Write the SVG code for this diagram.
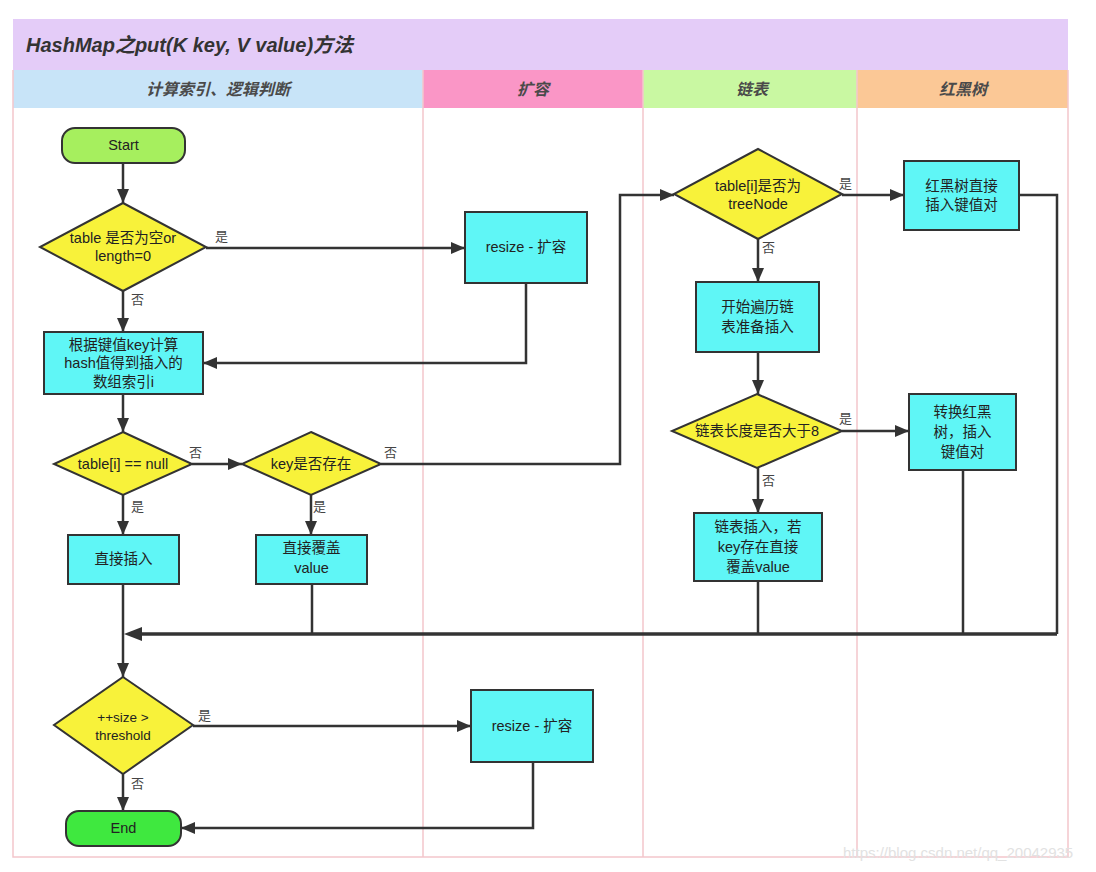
<svg xmlns="http://www.w3.org/2000/svg" width="1096" height="872" viewBox="0 0 1096 872">
<style>
text{font-family:"Liberation Sans","Noto Sans CJK SC",sans-serif;fill:#222}
.t{font-size:14.5px;text-anchor:middle}
.lbl{font-size:13px;fill:#444}
.lane{font-size:16px;font-style:italic;font-weight:bold;fill:#4a4a4a;text-anchor:middle}
.box{fill:#5ff6f6;stroke:#333;stroke-width:2}
.dia{fill:#f8f23a;stroke:#333;stroke-width:2}
.sep{stroke:#f3c6cc;stroke-width:1.5;fill:none}
.c{fill:none;stroke:#333;stroke-width:2.5;marker-end:url(#ah)}
.n{fill:none;stroke:#333;stroke-width:2.5}
</style>
<defs>
<marker id="ah" viewBox="0 0 14 12" refX="14" refY="6" markerWidth="14" markerHeight="12" markerUnits="userSpaceOnUse" orient="auto">
<path d="M0,0 L14,6 L0,12 z" fill="#333"/>
</marker>
</defs>
<rect width="1096" height="872" fill="#fff"/>
<g id="pool">
<rect x="13" y="19" width="1055" height="51" fill="#e4ccf8"/>
<text x="26" y="52" style="font-size:20px;font-weight:bold;font-style:italic;fill:#333">HashMap之put(K key, V value)方法</text>
<rect x="13" y="70" width="410" height="38" fill="#c8e4f8"/>
<rect x="423" y="70" width="220" height="38" fill="#fa96c6"/>
<rect x="643" y="70" width="214" height="38" fill="#c9f8a2"/>
<rect x="857" y="70" width="211" height="38" fill="#fbc896"/>
<text class="lane" x="218" y="95">计算索引、逻辑判断</text>
<text class="lane" x="533" y="95">扩容</text>
<text class="lane" x="752" y="95">链表</text>
<text class="lane" x="963" y="95">红黑树</text>
<path class="sep" d="M13,70 V857 H1068 V70 M423,70 V857 M643,70 V857 M857,70 V857"/>
</g>
<g id="connectors">
<path class="c" d="M123,163 V203"/>
<path class="c" d="M206,248 H465"/>
<path class="c" d="M123,291 V332"/>
<path class="c" d="M526,283 V363 H203"/>
<path class="c" d="M123,394 V432"/>
<path class="c" d="M192,464 H242"/>
<path class="c" d="M381,464 H620 V195 H674"/>
<path class="c" d="M123,495 V535"/>
<path class="c" d="M311,495 V535"/>
<path class="c" d="M842,195 H904"/>
<path class="c" d="M758,239 V282"/>
<path class="c" d="M758,352 V394"/>
<path class="c" d="M842,431 H909"/>
<path class="c" d="M758,468 V513"/>
<path class="n" d="M1019,195 H1057 V634"/>
<path class="n" d="M963,470 V634"/>
<path class="n" d="M758,581 V634"/>
<path class="n" d="M312,584 V634"/>
<path fill="none" stroke="#333" stroke-width="3.5" d="M1057,634 H140"/>
<path fill="#333" d="M124,634 L142,627 L142,641 z"/>
<path class="c" d="M123,584 V677"/>
<path class="c" d="M193,726 H471"/>
<path class="c" d="M123,774 V811"/>
<path class="c" d="M533,762 V828 H181"/>
<text class="lbl" x="215" y="241">是</text>
<text class="lbl" x="131" y="304">否</text>
<text class="lbl" x="189" y="457">否</text>
<text class="lbl" x="384" y="457">否</text>
<text class="lbl" x="131" y="511">是</text>
<text class="lbl" x="313" y="511">是</text>
<text class="lbl" x="839" y="188">是</text>
<text class="lbl" x="762" y="252">否</text>
<text class="lbl" x="839" y="423">是</text>
<text class="lbl" x="762" y="485">否</text>
<text class="lbl" x="198" y="720">是</text>
<text class="lbl" x="131" y="788">否</text>
</g>
<g id="start">
<rect x="62" y="128" width="123" height="35" rx="13" fill="#a6ef5e" stroke="#333" stroke-width="2"/>
<text class="t" x="123.5" y="150">Start</text>
</g>
<g id="d-table-empty">
<polygon class="dia" points="123,203 206,247 123,291 40,247"/>
<text class="t" x="123" y="243">table 是否为空or</text>
<text class="t" x="123" y="261">length=0</text>
</g>
<g id="resize1">
<rect class="box" x="465" y="212" width="122" height="71"/>
<text class="t" x="526" y="252">resize - 扩容</text>
</g>
<g id="hash">
<rect class="box" x="44" y="332" width="159" height="62"/>
<text class="t" x="123.5" y="350">根据键值key计算</text>
<text class="t" x="123.5" y="368">hash值得到插入的</text>
<text class="t" x="123.5" y="387">数组索引i</text>
</g>
<g id="d-null">
<polygon class="dia" points="123,432 192,464 123,495 54,464"/>
<text class="t" x="123" y="469">table[i] == null</text>
</g>
<g id="d-key">
<polygon class="dia" points="311,432 381,464 311,495 242,464"/>
<text class="t" x="311" y="469">key是否存在</text>
</g>
<g id="insert">
<rect class="box" x="68" y="535" width="111" height="49"/>
<text class="t" x="123.5" y="564">直接插入</text>
</g>
<g id="overwrite">
<rect class="box" x="256" y="535" width="111" height="49"/>
<text class="t" x="311.5" y="553">直接覆盖</text>
<text class="t" x="311.5" y="573">value</text>
</g>
<g id="d-treenode">
<polygon class="dia" points="758,149 842,194 758,239 674,194"/>
<text class="t" x="758" y="191">table[i]是否为</text>
<text class="t" x="758" y="209">treeNode</text>
</g>
<g id="tree-insert">
<rect class="box" x="904" y="161" width="115" height="69"/>
<text class="t" x="961.5" y="191">红黑树直接</text>
<text class="t" x="961.5" y="210">插入键值对</text>
</g>
<g id="traverse">
<rect class="box" x="696" y="282" width="123" height="70"/>
<text class="t" x="757.5" y="312">开始遍历链</text>
<text class="t" x="757.5" y="332">表准备插入</text>
</g>
<g id="d-len8">
<polygon class="dia" points="757,394 842,431 757,468 672,431"/>
<text class="t" x="757" y="436">链表长度是否大于8</text>
</g>
<g id="treeify">
<rect class="box" x="909" y="394" width="107" height="76"/>
<text class="t" x="962.5" y="417">转换红黑</text>
<text class="t" x="962.5" y="437">树，插入</text>
<text class="t" x="962.5" y="457">键值对</text>
</g>
<g id="list-insert">
<rect class="box" x="694" y="513" width="128" height="68"/>
<text class="t" x="758" y="532">链表插入，若</text>
<text class="t" x="758" y="552">key存在直接</text>
<text class="t" x="758" y="572">覆盖value</text>
</g>
<g id="d-threshold">
<polygon class="dia" points="123,677 193,725 123,774 54,725"/>
<text class="t" x="123" y="722" style="font-size:13.5px">++size &gt;</text>
<text class="t" x="123" y="740" style="font-size:13.5px">threshold</text>
</g>
<g id="resize2">
<rect class="box" x="471" y="690" width="122" height="72"/>
<text class="t" x="532" y="731">resize - 扩容</text>
</g>
<g id="end">
<rect x="66" y="811" width="115" height="35" rx="13" fill="#3fe83f" stroke="#333" stroke-width="2"/>
<text class="t" x="123.5" y="833">End</text>
</g>
<text x="843" y="858" style="font-size:15px;fill:#e2e2e2">https://blog.csdn.net/qq_20042935</text>
</svg>
